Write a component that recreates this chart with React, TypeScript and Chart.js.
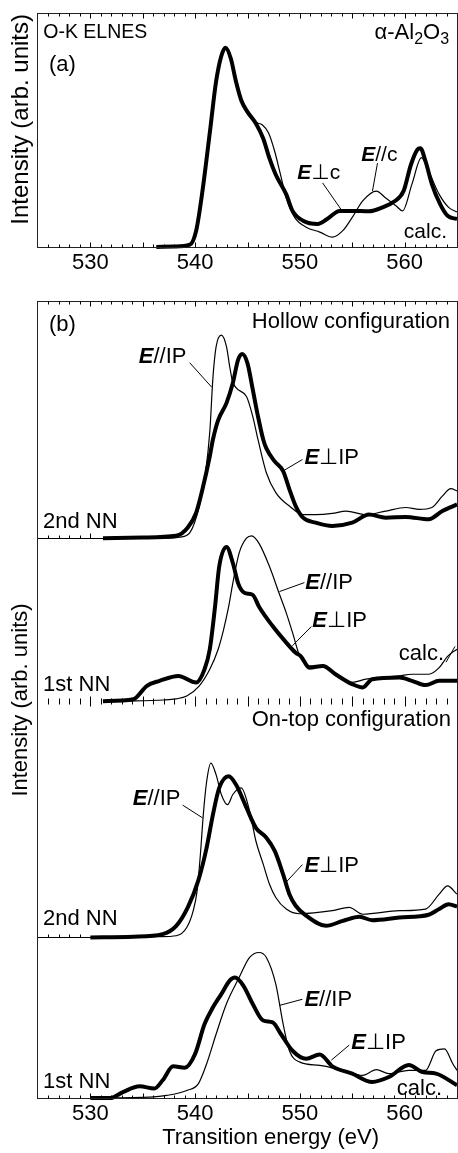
import React, { useEffect, useRef } from 'react';
import { Chart, registerables } from 'chart.js';

Chart.register(...registerables);

const FONT = '"Liberation Sans", "DejaVu Sans", Arial, sans-serif';

// Energy axis (eV)
const E_MIN = 525;
const E_MAX = 565;
const energyTicks = [530, 540, 550, 560];

// (a) alpha-Al2O3, calculated O-K ELNES
const aE_perp = [536.3, 538.0, 539.5, 540.1, 540.7, 541.4, 542.0, 542.5, 542.9, 543.4, 543.9, 544.4, 545.0, 545.8, 546.5, 547.1, 547.7, 548.7, 549.3, 550.3, 551.7, 552.6, 553.8, 555.0, 556.6, 557.9, 559.0, 559.9, 560.6, 561.2, 561.5, 562.0, 562.6, 563.4, 564.1, 565.0];
const aI_perp = [0, 0.002, 0.01, 0.07, 0.24, 0.49, 0.71, 0.82, 0.855, 0.81, 0.71, 0.63, 0.58, 0.53, 0.466, 0.38, 0.31, 0.226, 0.155, 0.113, 0.099, 0.12, 0.155, 0.155, 0.153, 0.17, 0.195, 0.24, 0.353, 0.417, 0.424, 0.367, 0.27, 0.183, 0.134, 0.12];
const aE_par = [536.3, 538.0, 539.5, 540.1, 540.7, 541.4, 542.0, 542.5, 542.9, 543.4, 543.9, 544.4, 545.0, 545.8, 546.4, 547.0, 547.6, 548.1, 548.7, 549.5, 550.6, 551.9, 553.1, 554.1, 555.0, 556.0, 557.3, 558.2, 559.2, 559.8, 560.7, 561.6, 562.3, 563.3, 564.2, 565.0];
const aI_par = [0, 0.002, 0.01, 0.07, 0.24, 0.49, 0.71, 0.82, 0.855, 0.81, 0.71, 0.63, 0.58, 0.535, 0.525, 0.49, 0.41, 0.32, 0.21, 0.127, 0.085, 0.064, 0.042, 0.07, 0.127, 0.198, 0.24, 0.21, 0.176, 0.155, 0.27, 0.384, 0.325, 0.226, 0.17, 0.15];

// (b) Hollow configuration, 2nd NN
const h2E_par = [531.2, 537.5, 538.5, 539.5, 540.4, 541.0, 541.4, 541.7, 542.0, 542.5, 543.0, 543.3, 543.6, 544.9, 545.5, 546.0, 546.8, 547.7, 549.0, 550.3, 551.5, 553.1, 554.4, 556.3, 558.2, 560.1, 561.4, 562.6, 563.6, 564.4, 565.0];
const h2I_par = [0, 0, 0.004, 0.024, 0.136, 0.28, 0.45, 0.68, 0.81, 0.86, 0.81, 0.727, 0.66, 0.6, 0.516, 0.418, 0.277, 0.193, 0.136, 0.1, 0.1, 0.105, 0.115, 0.1, 0.115, 0.13, 0.122, 0.13, 0.178, 0.21, 0.2];
const h2E_perp = [531.2, 535.0, 538.2, 539.3, 540.1, 540.7, 541.4, 541.7, 542.2, 543.0, 543.6, 544.1, 544.5, 545.0, 545.5, 546.0, 546.5, 546.8, 547.6, 548.4, 549.0, 549.6, 550.3, 551.5, 553.1, 555.0, 556.6, 558.2, 560.1, 562.3, 563.6, 565.0];
const h2I_perp = [0, 0.003, 0.01, 0.045, 0.108, 0.207, 0.347, 0.418, 0.5, 0.573, 0.657, 0.755, 0.78, 0.74, 0.63, 0.516, 0.418, 0.38, 0.325, 0.284, 0.207, 0.136, 0.087, 0.066, 0.052, 0.066, 0.1, 0.087, 0.09, 0.08, 0.115, 0.143];

// (b) Hollow configuration, 1st NN
const h1E_par = [533.0, 537.0, 538.2, 539.2, 540.4, 541.4, 542.2, 542.7, 543.2, 543.6, 544.2, 544.9, 545.4, 546.1, 547.1, 548.0, 548.7, 549.3, 550.0, 550.9, 552.2, 553.4, 555.0, 556.3, 559.5, 560.7, 562.3, 563.3, 564.1, 565.0];
const h1I_par = [0, 0.005, 0.01, 0.022, 0.065, 0.135, 0.22, 0.3, 0.4, 0.5, 0.627, 0.69, 0.7, 0.668, 0.57, 0.459, 0.374, 0.29, 0.19, 0.15, 0.145, 0.115, 0.08, 0.093, 0.107, 0.114, 0.114, 0.142, 0.19, 0.22];
const h1E_perp = [531.2, 534.1, 535.4, 536.6, 538.4, 540.1, 540.9, 541.4, 541.9, 542.3, 543.0, 543.6, 544.1, 544.7, 545.5, 546.1, 547.4, 548.7, 549.6, 550.1, 550.9, 552.2, 553.4, 555.0, 556.0, 556.9, 559.5, 560.7, 562.0, 563.3, 565.0];
const h1I_perp = [0, 0.008, 0.065, 0.086, 0.107, 0.079, 0.135, 0.22, 0.4, 0.57, 0.653, 0.585, 0.5, 0.459, 0.45, 0.4, 0.318, 0.248, 0.205, 0.19, 0.142, 0.149, 0.114, 0.072, 0.058, 0.093, 0.1, 0.086, 0.068, 0.086, 0.086];

// (b) On-top configuration, 2nd NN
const t2E_par = [530.0, 536.6, 538.2, 539.2, 539.8, 540.2, 540.5, 540.8, 541.1, 541.5, 542.0, 542.5, 543.1, 543.6, 544.4, 545.2, 545.8, 546.5, 547.1, 547.7, 548.7, 550.0, 553.1, 554.7, 556.0, 559.5, 562.0, 563.3, 564.1, 565.0];
const t2I_par = [0, 0.003, 0.007, 0.042, 0.11, 0.2, 0.35, 0.53, 0.66, 0.738, 0.689, 0.605, 0.562, 0.605, 0.633, 0.535, 0.408, 0.31, 0.225, 0.169, 0.12, 0.1, 0.113, 0.127, 0.098, 0.113, 0.12, 0.183, 0.218, 0.183];
const t2E_perp = [530.0, 534.1, 536.9, 538.2, 539.3, 540.3, 541.1, 541.7, 542.3, 543.2, 543.9, 544.9, 545.8, 546.8, 547.6, 548.4, 549.0, 549.6, 550.6, 552.5, 554.1, 555.7, 556.9, 559.5, 562.3, 563.3, 564.2, 565.0];
const t2I_perp = [0, 0.003, 0.014, 0.049, 0.127, 0.24, 0.38, 0.52, 0.633, 0.682, 0.647, 0.549, 0.464, 0.422, 0.366, 0.267, 0.183, 0.134, 0.092, 0.049, 0.07, 0.087, 0.073, 0.084, 0.096, 0.12, 0.14, 0.13];

// (b) On-top configuration, 1st NN
const t1E_par = [530.0, 535.7, 537.3, 539.2, 540.3, 541.1, 542.0, 543.0, 544.2, 545.2, 546.1, 546.8, 547.7, 548.4, 549.0, 550.0, 551.9, 554.1, 556.0, 557.3, 558.5, 560.4, 562.0, 563.0, 563.8, 564.6, 565.0];
const t1I_par = [0, 0.004, 0.011, 0.032, 0.06, 0.145, 0.27, 0.4, 0.51, 0.595, 0.616, 0.595, 0.482, 0.314, 0.2, 0.152, 0.138, 0.117, 0.096, 0.12, 0.103, 0.117, 0.117, 0.2, 0.208, 0.145, 0.117];
const t1E_perp = [530.0, 531.9, 533.1, 534.7, 536.1, 536.9, 537.9, 539.0, 540.0, 540.9, 541.7, 542.5, 543.3, 543.8, 544.6, 545.5, 546.5, 547.4, 548.2, 549.3, 550.6, 551.9, 553.1, 555.0, 556.9, 558.5, 560.4, 561.7, 563.0, 565.0];
const t1I_perp = [0, 0, 0.025, 0.05, 0.04, 0.075, 0.134, 0.128, 0.187, 0.313, 0.384, 0.44, 0.497, 0.51, 0.476, 0.398, 0.328, 0.32, 0.27, 0.2, 0.166, 0.184, 0.134, 0.103, 0.068, 0.089, 0.14, 0.11, 0.103, 0.054];

// Text parts: plain, bold-italic vector symbol, subscript
const T = (text: string) => ({ text });
const V = (text: string) => ({ text, style: 'vec' });
const S = (text: string) => ({ text, style: 'sub' });

// Labels anchored in data coordinates (energy, intensity on a given axis)
const notesA = [
  { axis: 'y', e: 525.5, v: 0.92, size: 19.5, parts: [T('O-K ELNES')] },
  { axis: 'y', e: 526.05, v: 0.78, size: 22, parts: [T('(a)')] },
  { axis: 'y', e: 564.24, v: 0.92, size: 22, align: 'right', parts: [T('α-Al'), S('2'), T('O'), S('3')] },
  { axis: 'y', e: 549.76, v: 0.318, size: 21, parts: [V('E'), T('⊥c')], lead: [552.17, 0.275, 553.92, 0.162] },
  { axis: 'y', e: 555.86, v: 0.394, size: 21, parts: [V('E'), T('//c')], lead: [557.41, 0.36, 556.93, 0.24] },
  { axis: 'y', e: 564.05, v: 0.064, size: 21, align: 'right', parts: [T('calc.')] },
];

const notesB = [
  { axis: 'yH2', e: 526.05, v: 0.903, size: 22, parts: [T('(b)')] },
  { axis: 'yH2', e: 564.33, v: 0.916, size: 22, align: 'right', parts: [T('Hollow configuration')] },
  { axis: 'yH2', e: 534.62, v: 0.768, size: 22, parts: [V('E'), T('//IP')], lead: [539.48, 0.743, 541.57, 0.64] },
  { axis: 'yH2', e: 550.43, v: 0.338, size: 22, parts: [V('E'), T('⊥IP')], lead: [550.24, 0.333, 548.33, 0.283] },
  { axis: 'yH2', e: 525.48, v: 0.068, size: 22, parts: [T('2nd NN')] },
  { axis: 'yH1', e: 550.52, v: 0.502, size: 22, parts: [V('E'), T('//IP')], lead: [550.43, 0.502, 548.05, 0.464] },
  { axis: 'yH1', e: 551.19, v: 0.338, size: 22, parts: [V('E'), T('⊥IP')], lead: [551.1, 0.316, 549.29, 0.235] },
  { axis: 'yH1', e: 563.76, v: 0.198, size: 22, align: 'right', parts: [T('calc.')], lead: [563.95, 0.165, 564.81, 0.232] },
  { axis: 'yH1', e: 525.48, v: 0.068, size: 22, parts: [T('1st NN')] },
  { axis: 'yT2', e: 564.43, v: 0.92, size: 22, align: 'right', parts: [T('On-top configuration')] },
  { axis: 'yT2', e: 534.05, v: 0.586, size: 22, parts: [V('E'), T('//IP')], lead: [538.81, 0.56, 540.71, 0.506] },
  { axis: 'yT2', e: 550.43, v: 0.304, size: 22, parts: [V('E'), T('⊥IP')], lead: [550.24, 0.308, 548.71, 0.235] },
  { axis: 'yT2', e: 525.48, v: 0.08, size: 22, parts: [T('2nd NN')] },
  { axis: 'yT1', e: 550.43, v: 0.414, size: 22, parts: [V('E'), T('//IP')], lead: [550.24, 0.418, 548.05, 0.392] },
  { axis: 'yT1', e: 554.9, v: 0.232, size: 22, parts: [V('E'), T('⊥IP')], lead: [554.71, 0.224, 553.0, 0.16] },
  { axis: 'yT1', e: 563.57, v: 0.038, size: 22, align: 'right', parts: [T('calc.')] },
  { axis: 'yT1', e: 525.48, v: 0.068, size: 22, parts: [T('1st NN')] },
  { axis: 'yT1', e: 547.2, v: -0.169, size: 22, align: 'center', parts: [T('Transition energy (eV)')] },
];

// Rows of inward tick marks (1 eV minor, 5 eV major)
const rowsA = [
  { edge: 'top', down: true, from: 526, to: 564 },
  { edge: 'bottom', up: true, from: 526, to: 564 },
];
const rowsB = [
  { edge: 'top', down: true, from: 526, to: 564 },
  { axis: 'yH2', up: true, from: 526, to: 530, base: [525, 532] },
  { axis: 'yH1', up: true, down: true, from: 526, to: 564 },
  { axis: 'yT2', up: true, from: 526, to: 529, base: [525, 531] },
  { edge: 'bottom', up: true, from: 526, to: 564 },
];

const fontFor = (style: string | undefined, size: number) => {
  if (style === 'vec') return `italic bold ${size}px ${FONT}`;
  if (style === 'sub') return `${Math.round(size * 0.72)}px ${FONT}`;
  return `${size}px ${FONT}`;
};

function makeDecor(rows: any[], notes: any[]) {
  return {
    id: 'panelDecor',
    afterDatasetsDraw(chart: any) {
      const { ctx, chartArea: a, scales } = chart;
      const xs = scales.x;
      const px = (e: number) => xs.getPixelForValue(e);
      const L = Math.round(a.left) - 0.5;
      const R = Math.round(a.right) + 0.5;
      const Tp = Math.round(a.top) - 0.5;
      const B = Math.round(a.bottom) + 0.5;
      ctx.save();
      ctx.lineWidth = 1;
      ctx.strokeStyle = '#222';
      ctx.strokeRect(L, Tp, R - L, B - Tp);

      ctx.strokeStyle = '#000';
      for (const r of rows) {
        const yy = r.edge === 'top' ? Tp : r.edge === 'bottom' ? B : Math.round(scales[r.axis].getPixelForValue(0)) + 0.5;
        ctx.beginPath();
        if (r.base) {
          ctx.moveTo(px(r.base[0]), yy);
          ctx.lineTo(px(r.base[1]), yy);
        }
        for (let e = r.from; e <= r.to; e++) {
          const x = Math.round(px(e)) + 0.5;
          const len = e % 5 === 0 ? 5 : 3;
          ctx.moveTo(x, r.up ? yy - len : yy);
          ctx.lineTo(x, r.down ? yy + len : yy);
        }
        ctx.stroke();
      }

      ctx.fillStyle = '#000';
      ctx.textBaseline = 'middle';
      ctx.textAlign = 'left';
      for (const n of notes) {
        const ys = scales[n.axis];
        const x0 = px(n.e);
        const y0 = ys.getPixelForValue(n.v);
        const fonts = n.parts.map((p: any) => fontFor(p.style, n.size));
        const widths = n.parts.map((p: any, i: number) => {
          ctx.font = fonts[i];
          return ctx.measureText(p.text).width;
        });
        const total = widths.reduce((s: number, w: number) => s + w, 0);
        let x = n.align === 'right' ? x0 - total : n.align === 'center' ? x0 - total / 2 : x0;
        n.parts.forEach((p: any, i: number) => {
          ctx.font = fonts[i];
          ctx.fillText(p.text, x, y0 + (p.style === 'sub' ? n.size * 0.32 : 0));
          x += widths[i];
        });
        if (n.lead) {
          ctx.beginPath();
          ctx.moveTo(px(n.lead[0]), ys.getPixelForValue(n.lead[1]));
          ctx.lineTo(px(n.lead[2]), ys.getPixelForValue(n.lead[3]));
          ctx.stroke();
        }
      }
      ctx.restore();
    },
  };
}

const series = (label: string, e: number[], v: number[], yAxisID: string, thick: boolean) => ({
  label,
  data: e.map((x, i) => ({ x, y: v[i] })),
  xAxisID: 'x',
  yAxisID,
  borderColor: '#000',
  borderWidth: thick ? 4 : 1.2,
  pointRadius: 0,
  pointHoverRadius: 0,
  cubicInterpolationMode: 'monotone',
  fill: false,
  clip: 6,
});

const energyAxis = () => ({
  type: 'linear',
  position: 'bottom',
  min: E_MIN,
  max: E_MAX,
  afterBuildTicks: (scale: any) => {
    scale.ticks = energyTicks.map((value) => ({ value }));
  },
  ticks: { color: '#000', font: { family: FONT, size: 22, lineHeight: 1.2 }, padding: 3, autoSkip: false, maxRotation: 0 },
  grid: { display: false, drawTicks: false },
  border: { display: false },
});

const hidden = { ticks: { display: false }, grid: { display: false, drawTicks: false }, border: { display: false } };

export default function App() {
  const topRef = useRef<HTMLCanvasElement>(null);
  const botRef = useRef<HTMLCanvasElement>(null);

  useEffect(() => {
    const chartA = new Chart(topRef.current as HTMLCanvasElement, {
      type: 'line',
      data: {
        datasets: [
          series('E⊥c', aE_perp, aI_perp, 'y', true),
          series('E//c', aE_par, aI_par, 'y', false),
        ],
      },
      options: {
        responsive: false,
        animation: false,
        events: [],
        layout: { autoPadding: false, padding: { left: 1.2, right: 1, top: 14, bottom: 10.6 } },
        plugins: { legend: { display: false }, tooltip: { enabled: false } },
        scales: {
          x: energyAxis(),
          y: {
            type: 'linear',
            position: 'left',
            min: 0,
            max: 1,
            ...hidden,
            title: {
              display: true,
              text: 'Intensity (arb. units)',
              align: 'end',
              color: '#000',
              font: { family: FONT, size: 24, lineHeight: 1.2 },
              padding: { top: 6, bottom: 2 },
            },
          },
        },
      } as any,
      plugins: [makeDecor(rowsA, notesA)],
    } as any);

    const stackAxis = (max: number, weight: number) => ({
      type: 'linear',
      position: 'left',
      stack: 'nn',
      stackWeight: max,
      weight,
      min: 0,
      max,
      display: false,
    });

    const chartB = new Chart(botRef.current as HTMLCanvasElement, {
      type: 'line',
      data: {
        datasets: [
          series('Hollow 2nd NN E⊥IP', h2E_perp, h2I_perp, 'yH2', true),
          series('Hollow 2nd NN E//IP', h2E_par, h2I_par, 'yH2', false),
          series('Hollow 1st NN E⊥IP', h1E_perp, h1I_perp, 'yH1', true),
          series('Hollow 1st NN E//IP', h1E_par, h1I_par, 'yH1', false),
          series('On-top 2nd NN E⊥IP', t2E_perp, t2I_perp, 'yT2', true),
          series('On-top 2nd NN E//IP', t2E_par, t2I_par, 'yT2', false),
          series('On-top 1st NN E⊥IP', t1E_perp, t1I_perp, 'yT1', true),
          series('On-top 1st NN E//IP', t1E_par, t1I_par, 'yT1', false),
        ],
      },
      options: {
        responsive: false,
        animation: false,
        events: [],
        layout: { autoPadding: false, padding: { left: 3.6, right: 1, top: 12, bottom: 22.6 } },
        plugins: { legend: { display: false }, tooltip: { enabled: false } },
        scales: {
          x: energyAxis(),
          yH2: stackAxis(1.0, 4),
          yH1: stackAxis(0.69, 3),
          yT2: stackAxis(1.0, 2),
          yT1: stackAxis(0.68, 1),
          yTitle: {
            type: 'linear',
            position: 'left',
            weight: 0,
            min: 0,
            max: 1,
            ...hidden,
            title: {
              display: true,
              text: 'Intensity (arb. units)',
              color: '#000',
              font: { family: FONT, size: 22, lineHeight: 1.2 },
              padding: { top: 4, bottom: 4 },
            },
          },
        },
      } as any,
      plugins: [makeDecor(rowsB, notesB)],
    } as any);

    return () => {
      chartA.destroy();
      chartB.destroy();
    };
  }, []);

  return (
    <div style={{ position: 'absolute', left: 0, top: 0, width: 458, height: 1153, background: '#fff' }}>
      <canvas ref={topRef} width={458} height={290} style={{ position: 'absolute', left: 0, top: 0 }} />
      <canvas ref={botRef} width={458} height={863} style={{ position: 'absolute', left: 0, top: 290 }} />
    </div>
  );
}
